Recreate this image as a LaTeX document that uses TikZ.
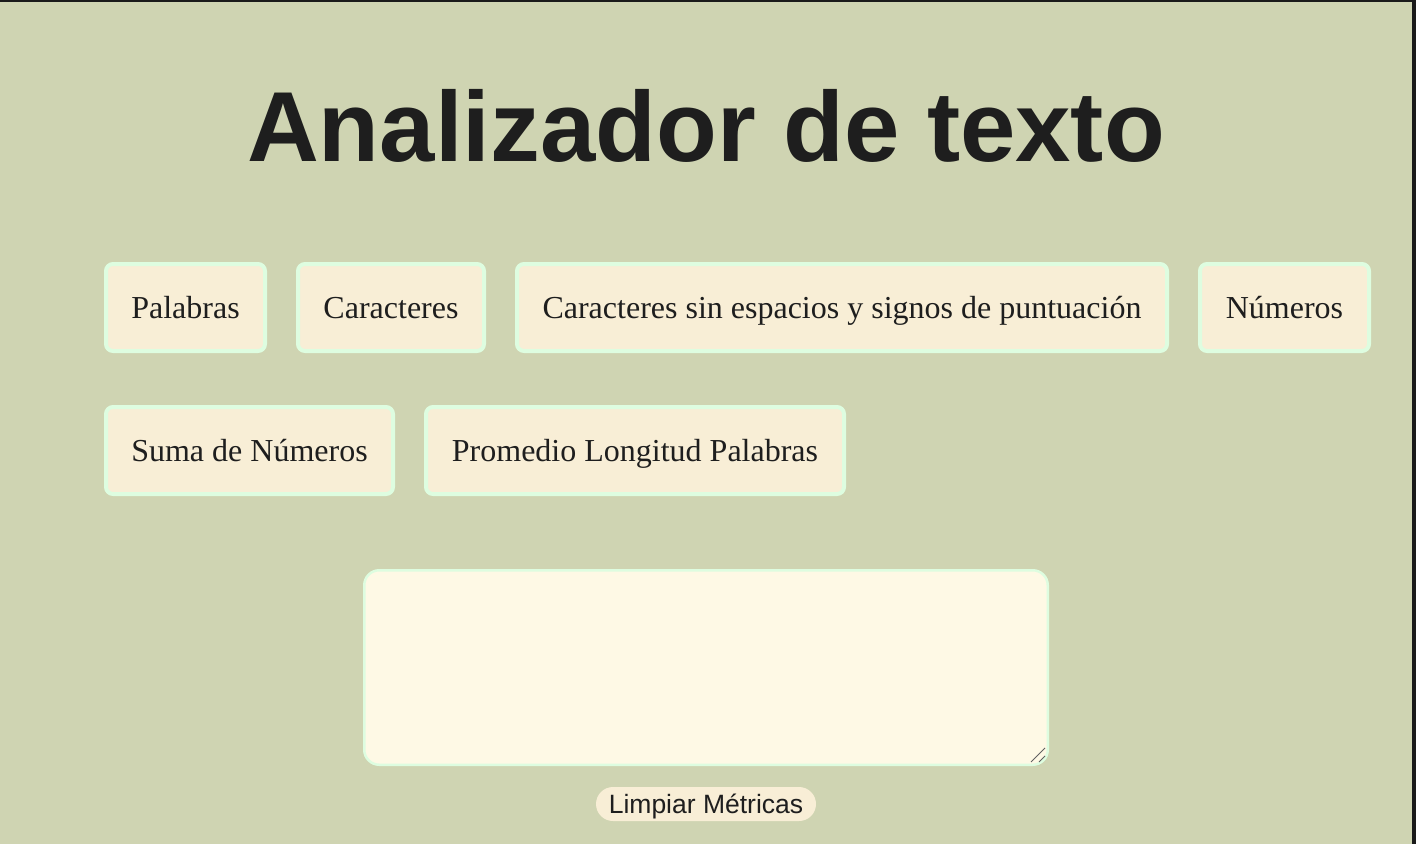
\documentclass[tikz,border=0pt]{standalone}
\usepackage{fontspec}
\setmainfont{Liberation Serif}
\newfontfamily\uisans{Liberation Sans}
\definecolor{bgc}{HTML}{CFD4B2}
\definecolor{btnfill}{HTML}{F8EED6}
\definecolor{btnborder}{HTML}{DEFDE0}
\definecolor{areafill}{HTML}{FEF9E5}
\definecolor{inkc}{HTML}{1E1E1E}
\definecolor{framec}{HTML}{1A1A1A}
\tikzset{
  metricbtn/.style={draw=btnborder, line width=4pt, fill=btnfill, rounded corners=7pt,
    minimum height=87pt, inner xsep=0pt, text=inkc,
    font=\fontsize{32}{36}\selectfont, text height=25pt, text depth=4pt},
  clearbtn/.style={fill=btnfill, rounded corners=17pt, minimum width=220pt, minimum height=34pt,
    inner sep=0pt, text=inkc, font=\uisans\fontsize{26.5}{30}\selectfont, text height=21pt, text depth=3pt},
  titletext/.style={text=inkc, font=\uisans\bfseries\fontsize{99.5}{110}\selectfont, inner sep=0pt, anchor=base},
}
\begin{document}
\begin{tikzpicture}[x=1pt,y=-1pt]
\useasboundingbox (0,0) rectangle (1416,844);
\fill[bgc] (0,0) rectangle (1416,844);
\fill[framec] (0,0) rectangle (1416,2);
\fill[framec] (1412,0) rectangle (1416,844);

\node[titletext] (title) at (706,161) {Analizador de texto};

\node[metricbtn, minimum width=159pt] (palabras) at (185.5,307.5) {Palabras};
\node[metricbtn, minimum width=186pt] (caracteres) at (391,307.5) {Caracteres};
\node[metricbtn, minimum width=650pt] (sinesp) at (842,307.5) {Caracteres sin espacios y signos de puntuación};
\node[metricbtn, minimum width=169pt] (numeros) at (1284.5,307.5) {Números};

\node[metricbtn, minimum width=287pt] (suma) at (249.5,450.5) {Suma de Números};
\node[metricbtn, minimum width=418pt] (promedio) at (635,450.5) {Promedio Longitud Palabras};

\node[draw=btnborder, line width=2.5pt, fill=areafill, rounded corners=15pt,
  minimum width=683.5pt, minimum height=194.5pt, inner sep=0pt] (area) at (706,667.5) {};
\coordinate (gripA1) at (1031,762);
\coordinate (gripA2) at (1045,748);
\coordinate (gripB1) at (1039,762);
\coordinate (gripB2) at (1045,756);
\draw[line width=1pt, color=inkc!70] (gripA1) -- (gripA2) (gripB1) -- (gripB2);

\node[clearbtn] (limpiar) at (706,804) {Limpiar Métricas};
\end{tikzpicture}
\end{document}
